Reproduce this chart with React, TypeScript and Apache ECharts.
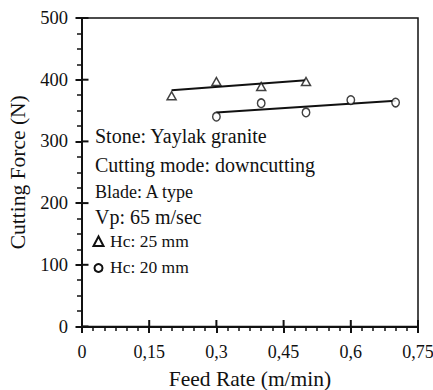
import React, { useEffect, useRef } from "react";
import * as echarts from "echarts";

const feedRateTri = [0.2, 0.3, 0.4, 0.5];
const forceTri = [374, 397, 389, 397];
const feedRateCir = [0.3, 0.4, 0.5, 0.6, 0.7];
const forceCir = [340, 362, 347, 367, 363];
const fitTriX = [0.2, 0.5];
const fitTriY = [383, 399];
const fitCirX = [0.3, 0.7];
const fitCirY = [347, 366];
const xTicks = [0, 0.15, 0.3, 0.45, 0.6, 0.75];
const xTickLabels = ["0", "0,15", "0,3", "0,45", "0,6", "0,75"];
const yTicks = [0, 100, 200, 300, 400, 500];
const yTickLabels = ["0", "100", "200", "300", "400", "500"];
const xTitle = "Feed Rate (m/min)";
const yTitle = "Cutting Force (N)";
const annotations = [
  { text: "Stone: Yaylak granite", size: 20 },
  { text: "Cutting mode: downcutting", size: 20 },
  { text: "Blade: A type", size: 18 },
  { text: "Vp: 65 m/sec", size: 20 },
];
const legendLabels = ["Hc: 25 mm", "Hc: 20 mm"];

const FONT = "Liberation Serif";
const INK = "#111";

const lookup = (ticks: number[], labels: string[], v: number) => {
  const i = ticks.findIndex((t) => Math.abs(t - v) < 1e-6);
  return i >= 0 ? labels[i] : String(v);
};

export default function App() {
  const ref = useRef<HTMLDivElement>(null);
  useEffect(() => {
    if (!ref.current) return;
    const chart = echarts.init(ref.current, null, { renderer: "svg" });
    const gridLeft = 82, gridTop = 18, gridRight = 15, gridBottom = 63.5;
    const annY = [138, 166.5, 193, 219];
    const graphics: any[] = annotations.map((a, i) => ({
      type: "text",
      left: 95,
      top: annY[i] - a.size * 0.58,
      style: { text: a.text, fontFamily: FONT, fontSize: a.size, fill: INK },
    }));
    graphics.push(
      {
        type: "polygon",
        shape: { points: [[98.5, 236.5], [93.5, 246], [103.5, 246]] },
        style: { fill: "#fff", stroke: INK, lineWidth: 2 },
      },
      {
        type: "circle",
        shape: { cx: 98.5, cy: 268, r: 4 },
        style: { fill: "#fff", stroke: INK, lineWidth: 2 },
      },
      {
        type: "text",
        left: 110,
        top: 241.5 - 9.8,
        style: { text: legendLabels[0], fontFamily: FONT, fontSize: 17.5, fill: INK },
      },
      {
        type: "text",
        left: 110,
        top: 268 - 9.8,
        style: { text: legendLabels[1], fontFamily: FONT, fontSize: 17.5, fill: INK },
      }
    );
    const lineStyle = { color: INK, width: 2 };
    const tickLen = 6.5;
    chart.setOption({
      animation: false,
      backgroundColor: "#fff",
      textStyle: { fontFamily: FONT, color: INK },
      grid: {
        left: gridLeft,
        top: gridTop,
        right: gridRight,
        bottom: gridBottom,
        containLabel: false,
        outerBoundsMode: "none",
        show: true,
        borderColor: INK,
        borderWidth: 1.5,
        backgroundColor: "transparent",
      },
      xAxis: {
        type: "value",
        min: 0,
        max: 0.75,
        interval: 0.15,
        position: "bottom",
        name: xTitle,
        nameLocation: "middle",
        nameGap: 41,
        nameTextStyle: { fontFamily: FONT, fontSize: 21.5, color: INK },
        axisLine: { onZero: false, lineStyle: { color: INK, width: 2 } },
        axisTick: { show: true, inside: false, length: 6.5, lineStyle: { color: INK, width: 2 } },
        minorTick: { show: true, splitNumber: 6, length: 4.5, lineStyle: { color: INK, width: 1.5 } },
        axisLabel: {
          fontFamily: FONT,
          fontSize: 18,
          color: INK,
          margin: 16,
          formatter: (v: number) => lookup(xTicks, xTickLabels, v),
        },
        splitLine: { show: false },
        minorSplitLine: { show: false },
      },
      yAxis: {
        type: "value",
        min: 0,
        max: 500,
        interval: 100,
        position: "left",
        name: yTitle,
        nameLocation: "middle",
        nameGap: 50,
        nameTextStyle: { fontFamily: FONT, fontSize: 21.5, color: INK },
        axisLine: { onZero: false, lineStyle: { color: INK, width: 2 } },
        axisTick: { show: true, inside: false, length: 6.5, lineStyle: { color: INK, width: 2 } },
        minorTick: { show: true, splitNumber: 4, length: 5, lineStyle: { color: INK, width: 1.5 } },
        axisLabel: {
          fontFamily: FONT,
          fontSize: 18.5,
          color: INK,
          margin: 14,
          formatter: (v: number) => lookup(yTicks, yTickLabels, v),
        },
        splitLine: { show: false },
        minorSplitLine: { show: false },
      },
      series: [
        {
          type: "custom",
          data: xTicks.map((v) => [v, 0]),
          silent: true,
          clip: false,
          renderItem: (params: any, api: any) => {
            const p = api.coord([api.value(0), api.value(1)]);
            return {
              type: "line",
              shape: { x1: p[0], y1: p[1], x2: p[0], y2: p[1] - tickLen },
              style: { stroke: INK, lineWidth: 2 },
            };
          },
          z: 5,
        },
        {
          type: "custom",
          data: yTicks.map((v) => [0, v]),
          silent: true,
          clip: false,
          renderItem: (params: any, api: any) => {
            const p = api.coord([api.value(0), api.value(1)]);
            return {
              type: "line",
              shape: { x1: p[0], y1: p[1], x2: p[0] + tickLen, y2: p[1] },
              style: { stroke: INK, lineWidth: 2 },
            };
          },
          z: 5,
        },
        {
          type: "line",
          data: fitTriX.map((x, i) => [x, fitTriY[i]]),
          showSymbol: false,
          symbol: "none",
          lineStyle,
          z: 2,
        },
        {
          type: "line",
          data: fitCirX.map((x, i) => [x, fitCirY[i]]),
          showSymbol: false,
          symbol: "none",
          lineStyle,
          z: 2,
        },
        {
          type: "scatter",
          data: feedRateTri.map((x, i) => [x, forceTri[i]]),
          symbol: "triangle",
          symbolSize: [9, 8],
          itemStyle: { color: "#fff", borderColor: INK, borderWidth: 1.5 },
          z: 3,
        },
        {
          type: "scatter",
          data: feedRateCir.map((x, i) => [x, forceCir[i]]),
          symbol: "circle",
          symbolSize: [7.5, 8.5],
          itemStyle: { color: "#fff", borderColor: INK, borderWidth: 1.5 },
          z: 3,
        },
      ],
      graphic: graphics,
    });
    return () => chart.dispose();
  }, []);
  return <div ref={ref} style={{ width: 433, height: 390, position: "absolute", left: 0, top: 0 }} />;
}
